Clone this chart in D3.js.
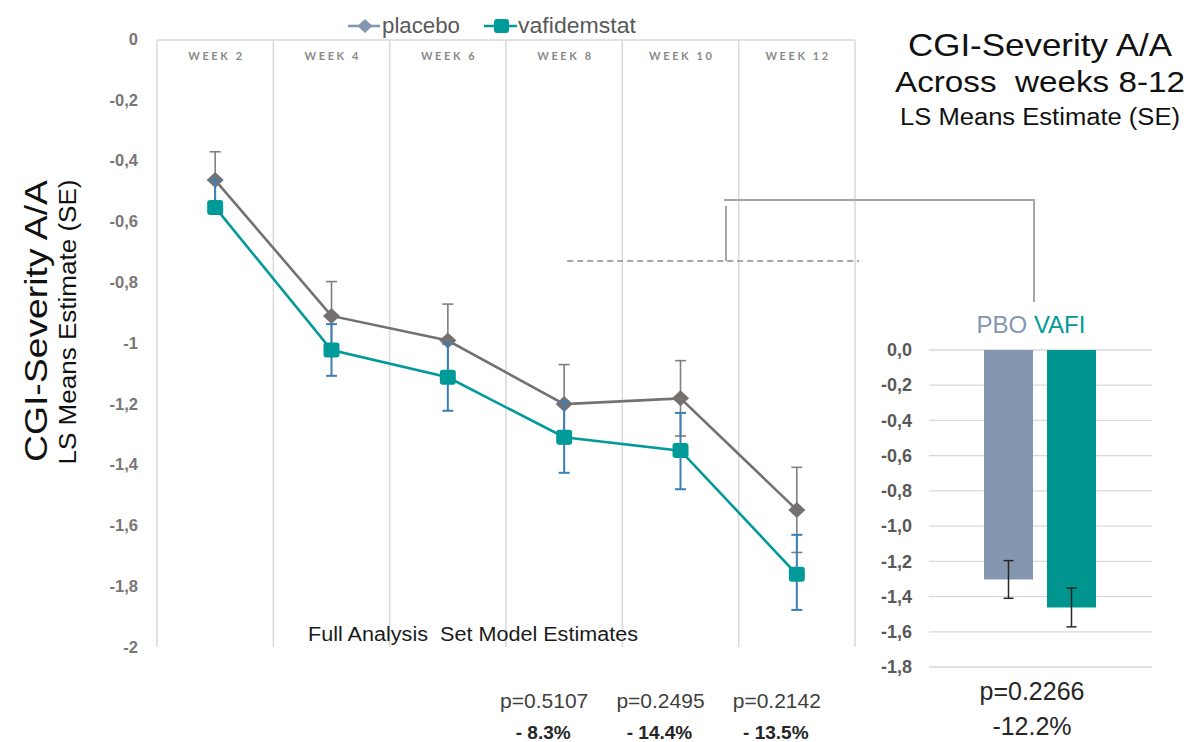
<!DOCTYPE html>
<html><head><meta charset="utf-8">
<script src="https://cdn.jsdelivr.net/npm/d3@7"></script>
<style>body{margin:0;background:#fff;} svg{display:block;} text{font-family:"Liberation Sans",Arial,sans-serif;}</style>
</head><body>
<svg id="c" width="1190" height="742"></svg>
<script>
// ---------- data ----------
const weeks = ["WEEK 2","WEEK 4","WEEK 6","WEEK 8","WEEK 10","WEEK 12"];
const placebo = [-0.464,-0.911,-0.992,-1.201,-1.182,-1.549];
const placeboSE = [0.093,0.113,0.12,0.13,0.124,0.14];
const vafidemstat = [-0.554,-1.023,-1.113,-1.31,-1.354,-1.761];
const vafiSEUp = [0.09,0.085,0.11,0.117,0.124,0.13];
const vafiSEDown = [0,0.085,0.11,0.117,0.127,0.117];
const yTicks = [0,-0.2,-0.4,-0.6,-0.8,-1,-1.2,-1.4,-1.6,-1.8,-2];
const yTickLabels = ["0","-0,2","-0,4","-0,6","-0,8","-1","-1,2","-1,4","-1,6","-1,8","-2"];
const seriesNames = ["placebo","vafidemstat"];
const pWeeks = ["WEEK 8","WEEK 10","WEEK 12"];
const pValues = ["p=0.5107","p=0.2495","p=0.2142"];
const pctDiff = ["- 8.3%","- 14.4%","- 13.5%"];
const barCats = ["PBO","VAFI"];
const barValues = [-1.303,-1.462];
const barSE = [0.107,0.11];
const barTicks = [0,-0.2,-0.4,-0.6,-0.8,-1,-1.2,-1.4,-1.6,-1.8];
const barTickLabels = ["0,0","-0,2","-0,4","-0,6","-0,8","-1,0","-1,2","-1,4","-1,6","-1,8"];
const barPValue = "p=0.2266";
const barPct = "-12.2%";
const titleLines = ["CGI-Severity A/A","Across  weeks 8-12","LS Means Estimate (SE)"];
const yTitle = ["CGI-Severity A/A","LS Means Estimate (SE)"];
const footnote = "Full Analysis  Set Model Estimates";

// ---------- styles ----------
const C_PBO = "#767171", C_VAFI = "#009a98", C_VAFI_ERR = "#3b7fb5", C_PBO_ERR = "#7f7f7f";
const C_GRID = "#d9d9d9";

const svg = d3.select("#c");

// ---------- main chart ----------
const x = d3.scaleBand().domain(weeks).range([157, 855]);
const xc = w => x(w) + x.bandwidth()/2;
const y = d3.scaleLinear().domain([0, -2]).range([39, 647]);

// grid frame
const grid = svg.append("g");
grid.append("line").attr("x1", x.range()[0]).attr("x2", x.range()[1]).attr("y1", 40).attr("y2", 40)
  .attr("stroke", C_GRID).attr("stroke-width", 1.5);
grid.selectAll("line.v").data(weeks.map(w => x(w)).concat([x.range()[1]])).join("line")
  .attr("class","v").attr("x1", d=>d).attr("x2", d=>d).attr("y1", 40).attr("y2", y(-2))
  .attr("stroke", C_GRID).attr("stroke-width", 1.5);

// week labels
svg.append("g").selectAll("text").data(weeks).join("text")
  .attr("x", d => xc(d) + 1.3).attr("y", 60).attr("text-anchor","middle")
  .attr("font-size", 11).attr("font-weight","bold").attr("letter-spacing", 2.6)
  .attr("fill", "#8a8a8a").style("font-family","Lato, 'Liberation Sans', sans-serif")
  .text(d => d);

// y axis
const ya = svg.append("g").attr("transform","translate(141,0)")
  .call(d3.axisLeft(y).tickValues(yTicks).tickFormat((d,i)=>yTickLabels[i]).tickSize(0).tickPadding(3));
ya.select(".domain").remove();
ya.selectAll("text").attr("font-size", 16.5).attr("font-weight","bold").attr("fill","#7a7676")
  .style("font-family","'Liberation Sans',Arial,sans-serif");

// lines
const line = d3.line().x((d,i)=>xc(weeks[i])).y(d=>y(d));
svg.append("path").datum(placebo).attr("d", line).attr("fill","none").attr("stroke", C_PBO).attr("stroke-width", 2.6);
svg.append("path").datum(vafidemstat).attr("d", line).attr("fill","none").attr("stroke", C_VAFI).attr("stroke-width", 2.6);

// error bars
function errBars(vals, up, down, color, w) {
  const g = svg.append("g").attr("stroke", color).attr("stroke-width", w);
  vals.forEach((v,i) => {
    const cx = xc(weeks[i]);
    g.append("line").attr("x1",cx).attr("x2",cx).attr("y1",y(v+up[i])).attr("y2",y(v-down[i]));
    if (up[i] > 0) g.append("line").attr("x1",cx-5.5).attr("x2",cx+5.5).attr("y1",y(v+up[i])).attr("y2",y(v+up[i]));
    if (down[i] > 0) g.append("line").attr("x1",cx-5.5).attr("x2",cx+5.5).attr("y1",y(v-down[i])).attr("y2",y(v-down[i]));
  });
}
errBars(placebo, placeboSE, placeboSE, C_PBO_ERR, 1.6);

// placebo markers
svg.append("g").selectAll("path").data(placebo).join("path")
  .attr("transform",(d,i)=>`translate(${xc(weeks[i])},${y(d)})`)
  .attr("d","M0,-8L8.5,0L0,8L-8.5,0Z").attr("fill", C_PBO);

errBars(vafidemstat, vafiSEUp, vafiSEDown, C_VAFI_ERR, 2);

// vafi markers
svg.append("g").selectAll("rect").data(vafidemstat).join("rect")
  .attr("x",(d,i)=>xc(weeks[i])-8).attr("y",d=>y(d)-7.5).attr("width",16).attr("height",15)
  .attr("rx",3).attr("fill", C_VAFI);

// legend
const lg = svg.append("g");
lg.append("line").attr("x1",348).attr("x2",380).attr("y1",26).attr("y2",26).attr("stroke","#8497b0").attr("stroke-width",2.6);
lg.append("path").attr("transform","translate(365,26)").attr("d","M0,-7L7.5,0L0,7L-7.5,0Z").attr("fill","#8497b0");
lg.append("text").attr("x",382).attr("y",33).attr("font-size",22).attr("fill","#595959")
  .attr("textLength",78).attr("lengthAdjust","spacingAndGlyphs").text(seriesNames[0]);
lg.append("line").attr("x1",484).attr("x2",517).attr("y1",26).attr("y2",26).attr("stroke",C_VAFI).attr("stroke-width",2.6);
lg.append("rect").attr("x",494).attr("y",19).attr("width",15).attr("height",14).attr("rx",3).attr("fill",C_VAFI);
lg.append("text").attr("x",518).attr("y",33).attr("font-size",22).attr("fill","#595959")
  .attr("textLength",118).attr("lengthAdjust","spacingAndGlyphs").text(seriesNames[1]);

// footnote
svg.append("text").attr("x",308).attr("y",641).attr("font-size",20).attr("fill","#1a1a1a")
  .style("white-space","pre").attr("textLength",330).attr("lengthAdjust","spacingAndGlyphs").text(footnote);

// p values under weeks
svg.append("g").selectAll("text").data(pValues).join("text")
  .attr("x",(d,i)=>xc(pWeeks[i])-20).attr("y",708).attr("text-anchor","middle")
  .attr("font-size",21).attr("fill","#404040").text(d=>d);
svg.append("g").selectAll("text").data(pctDiff).join("text")
  .attr("x",(d,i)=>xc(pWeeks[i])-21).attr("y",739).attr("text-anchor","middle")
  .attr("font-size",19).attr("font-weight","bold").attr("fill","#262626").text(d=>d);

// connector annotation
const ann = svg.append("g").attr("fill","none").attr("stroke","#a6a6a6").attr("stroke-width",2);
ann.append("path").attr("d","M724,200H1034V302");
ann.append("path").attr("d","M726,206V261");
ann.append("path").attr("d",`M${xc("WEEK 8")+3},261H859`).attr("stroke-dasharray","6,4").attr("stroke-width",1.8);

// ---------- inset bar chart ----------
const yb = d3.scaleLinear().domain([0,-1.8]).range([350,667]);
const xb = d3.scaleBand().domain(barCats).range([984,1096]).paddingInner(0.222).paddingOuter(0);
svg.append("g").selectAll("line").data(barTicks).join("line")
  .attr("x1",929).attr("x2",1152).attr("y1",d=>yb(d)).attr("y2",d=>yb(d))
  .attr("stroke",C_GRID).attr("stroke-width",1.3);
const yba = svg.append("g").attr("transform","translate(915,0)")
  .call(d3.axisLeft(yb).tickValues(barTicks).tickFormat((d,i)=>barTickLabels[i]).tickSize(0).tickPadding(3));
yba.select(".domain").remove();
yba.selectAll("text").attr("font-size",18).attr("font-weight","bold").attr("fill","#595959")
  .style("font-family","'Liberation Sans',Arial,sans-serif");
const barColors = ["#8497b0","#00948f"];
svg.append("g").selectAll("rect").data(barValues).join("rect")
  .attr("x",(d,i)=>xb(barCats[i])).attr("y",yb(0)).attr("width",xb.bandwidth())
  .attr("height",d=>yb(d)-yb(0)).attr("fill",(d,i)=>barColors[i]);
const be = svg.append("g").attr("stroke","#262626").attr("stroke-width",1.5);
barValues.forEach((v,i)=>{
  const cx = xb(barCats[i]) + xb.bandwidth()/2;
  be.append("line").attr("x1",cx).attr("x2",cx).attr("y1",yb(v+barSE[i])).attr("y2",yb(v-barSE[i]));
  [v+barSE[i], v-barSE[i]].forEach(e=>be.append("line").attr("x1",cx-5).attr("x2",cx+5).attr("y1",yb(e)).attr("y2",yb(e)));
});
const lab = svg.append("text").attr("x",1031).attr("y",333).attr("text-anchor","middle").attr("font-size",24);
lab.append("tspan").attr("fill",barColors[0]).text(barCats[0]);
lab.append("tspan").attr("fill",C_VAFI).text(" " + barCats[1]);
svg.append("text").attr("x",1032).attr("y",700).attr("text-anchor","middle").attr("font-size",25).attr("fill","#262626").text(barPValue);
svg.append("text").attr("x",1032).attr("y",735).attr("text-anchor","middle").attr("font-size",25).attr("fill","#262626").text(barPct);

// ---------- titles ----------
const tt = [[56,32,264],[92,30,290],[125,23,280]];
titleLines.forEach((t,i)=>{
  svg.append("text").attr("x",1040).attr("y",tt[i][0]).attr("text-anchor","middle")
    .attr("font-size",tt[i][1]).attr("fill","#111").style("white-space","pre")
    .attr("textLength",tt[i][2]).attr("lengthAdjust","spacingAndGlyphs").text(t);
});
svg.append("text").attr("transform","translate(47,321) rotate(-90)").attr("text-anchor","middle")
  .attr("font-size",31).attr("fill","#111").attr("textLength",282).attr("lengthAdjust","spacingAndGlyphs").text(yTitle[0]);
svg.append("text").attr("transform","translate(76,322) rotate(-90)").attr("text-anchor","middle")
  .attr("font-size",23).attr("fill","#111").attr("textLength",285).attr("lengthAdjust","spacingAndGlyphs").text(yTitle[1]);
</script>
</body></html>
